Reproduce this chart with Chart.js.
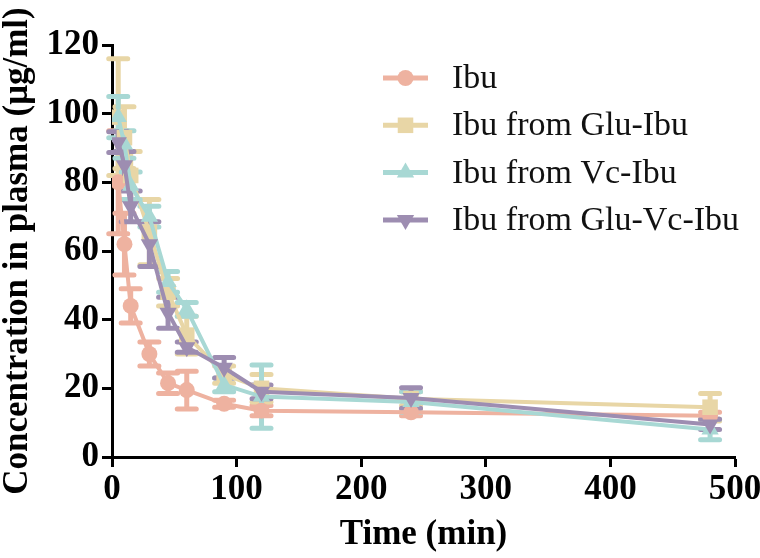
<!DOCTYPE html>
<html><head><meta charset="utf-8">
<script src="https://cdn.jsdelivr.net/npm/chart.js@4.4.0/dist/chart.umd.min.js"></script>
<style>html,body{margin:0;padding:0;background:#fff;}</style>
</head><body>
<canvas id="c" width="760" height="558"></canvas>
<script>
// ---- data ----
const times = [5, 10, 15, 30, 45, 60, 90, 120, 240, 480];
const seriesNames = ['Ibu', 'Ibu from Glu-Ibu', 'Ibu from Vc-Ibu', 'Ibu from Glu-Vc-Ibu'];
const ibuMean      = [80, 62, 44, 30, 21.5, 19.5, 15.5, 13.5, 13, 12];
const ibuErr       = [15, 9, 5, 3.5, 3, 5.5, 1, 1.5, 1, 1];
const gluIbuMean   = [99, 93, 82, 65.5, 48, 35.5, 24, 20, 17, 14.5];
const gluIbuErr    = [17, 9, 7, 9.5, 4, 5.5, 2.5, 4, 2, 4];
const vcIbuMean    = [99, 91, 79, 70, 51, 43, 21, 17.6, 16, 8];
const vcIbuErr     = [6, 4, 4, 3, 3, 2, 2, 9.2, 3, 3];
const gluVcIbuMean = [91.7, 85, 73, 62, 42, 32, 26, 19, 17.2, 9.5];
const gluVcIbuErr  = [3, 4, 4.5, 6.5, 4.5, 1.5, 3, 2, 3, 1.5];
const xTicks = [0, 100, 200, 300, 400, 500];
const yTicks = [0, 20, 40, 60, 80, 100, 120];

const colors = ['rgb(238,178,160)', 'rgb(232,214,166)', 'rgb(168,216,212)', 'rgb(157,141,177)'];
const styles = [
  {pointStyle: 'circle', r: 8, rot: 0},
  {pointStyle: 'rect', r: 11, rot: 0},
  {pointStyle: 'triangle', r: 10, rot: 0},
  {pointStyle: 'triangle', r: 10, rot: 180}
];
const means = [ibuMean, gluIbuMean, vcIbuMean, gluVcIbuMean];
const errs = [ibuErr, gluIbuErr, vcIbuErr, gluVcIbuErr];

const datasets = seriesNames.map((name, i) => ({
  label: name,
  data: times.map((t, j) => ({x: t, y: means[i][j]})),
  errors: errs[i],
  borderColor: colors[i],
  backgroundColor: colors[i],
  pointBackgroundColor: colors[i],
  pointBorderColor: colors[i],
  pointBorderWidth: 0,
  pointStyle: styles[i].pointStyle,
  pointRadius: styles[i].r,
  pointRotation: styles[i].rot,
  borderWidth: 4,
  tension: 0,
  order: 4 - i
}));

function drawMarker(ctx, style, r, rot, x, y, color) {
  ctx.save();
  ctx.fillStyle = color;
  ctx.translate(x, y);
  ctx.rotate(rot * Math.PI / 180);
  ctx.beginPath();
  if (style === 'circle') {
    ctx.arc(0, 0, r, 0, Math.PI * 2);
  } else if (style === 'rect') {
    const s = r * Math.SQRT1_2;
    ctx.rect(-s, -s, 2 * s, 2 * s);
  } else {
    ctx.moveTo(0, -r);
    ctx.lineTo(r * Math.sin(Math.PI * 2 / 3), r * 0.5);
    ctx.lineTo(-r * Math.sin(Math.PI * 2 / 3), r * 0.5);
    ctx.closePath();
  }
  ctx.fill();
  ctx.restore();
}

const errorBars = {
  id: 'errorBars',
  beforeDatasetsDraw(chart) {
    const ctx = chart.ctx, xs = chart.scales.x, ys = chart.scales.y;
    chart.data.datasets.forEach((ds, i) => {
      ctx.save();
      ctx.strokeStyle = ds.borderColor;
      ctx.lineWidth = 5;
      ctx.lineCap = 'round';
      ds.data.forEach((p, j) => {
        const e = ds.errors[j];
        const x = xs.getPixelForValue(p.x);
        const y1 = ys.getPixelForValue(p.y + e);
        const y2 = ys.getPixelForValue(p.y - e);
        ctx.beginPath();
        ctx.moveTo(x, y1); ctx.lineTo(x, y2);
        ctx.moveTo(x - 9.5, y1); ctx.lineTo(x + 9.5, y1);
        ctx.moveTo(x - 9.5, y2); ctx.lineTo(x + 9.5, y2);
        ctx.stroke();
      });
      ctx.restore();
    });
  }
};

const customLegend = {
  id: 'customLegend',
  afterDraw(chart) {
    const ctx = chart.ctx;
    chart.data.datasets.forEach((ds, i) => {
      const y = 78 + i * 47.3;
      ctx.save();
      ctx.strokeStyle = ds.borderColor;
      ctx.lineWidth = 5;
      ctx.beginPath(); ctx.moveTo(383, y); ctx.lineTo(428, y); ctx.stroke();
      drawMarker(ctx, ds.pointStyle, ds.pointRadius, ds.pointRotation, 405.5, y, ds.borderColor);
      ctx.fillStyle = '#111';
      ctx.font = '34px "Liberation Serif"';
      ctx.textBaseline = 'middle';
      ctx.textAlign = 'left';
      ctx.fillText(ds.label, 452, y + 1);
      ctx.restore();
    });
  }
};

const tickFont = {family: 'Liberation Serif', size: 35, weight: 'bold'};

new Chart(document.getElementById('c'), {
  type: 'line',
  data: {datasets},
  options: {
    responsive: false,
    devicePixelRatio: 1,
    animation: false,
    layout: {padding: {top: 45, right: 25, left: 0, bottom: 0}},
    plugins: {legend: {display: false}, tooltip: {enabled: false}},
    scales: {
      x: {
        type: 'linear', min: 0, max: 500,
        afterBuildTicks(s) { s.ticks = xTicks.map(v => ({value: v})); },
        ticks: {color: '#000', font: tickFont, padding: 2, maxRotation: 0},
        grid: {drawOnChartArea: false, tickLength: 10, tickWidth: 3, tickColor: '#000'},
        border: {color: '#000', width: 3},
        title: {display: true, text: 'Time (min)', color: '#000',
                font: {family: 'Liberation Serif', size: 35, weight: 'bold'}, padding: {top: 0, bottom: 2}},
        afterFit(s) { s.height = 101; s.paddingRight = 0; s.paddingLeft = 0; }
      },
      y: {
        type: 'linear', min: 0, max: 120,
        afterBuildTicks(s) { s.ticks = yTicks.map(v => ({value: v})); },
        ticks: {color: '#000', font: tickFont, padding: 3},
        grid: {drawOnChartArea: false, tickLength: 10, tickWidth: 3, tickColor: '#000'},
        border: {color: '#000', width: 3},
        title: {display: true, text: 'Concentration in plasma (μg/ml)', color: '#000',
                font: {family: 'Liberation Serif', size: 35, weight: 'bold', lineHeight: 1.0}, padding: {top: 0, bottom: 0}},
        afterFit(s) { s.width = 112; s.paddingTop = 0; s.paddingBottom = 0; }
      }
    }
  },
  plugins: [errorBars, customLegend]
});
</script>
</body></html>
